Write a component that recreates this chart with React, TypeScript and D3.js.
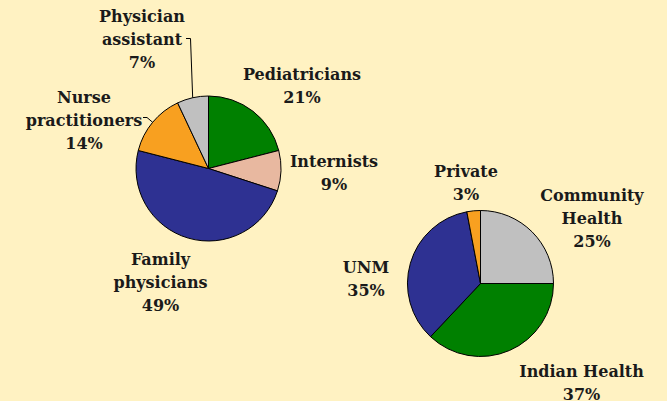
import React from "react";
import * as d3 from "d3";

// Pie 1: physician types
const providerCategories = ["Pediatricians", "Internists", "Family physicians", "Nurse practitioners", "Physician assistant"];
const providerValues = [21, 9, 49, 14, 7];
const providerLabelLines = [["Pediatricians"], ["Internists"], ["Family", "physicians"], ["Nurse", "practitioners"], ["Physician", "assistant"]];

// Pie 2: practice settings
const settingCategories = ["Community Health", "Indian Health", "UNM", "Private"];
const settingValues = [25, 37, 35, 3];
const settingLabelLines = [["Community", "Health"], ["Indian Health"], ["UNM"], ["Private"]];

const providerColors = ["#008000", "#E8B8A0", "#2E3192", "#F8A020", "#C0C0C0"];
const settingColors = ["#C0C0C0", "#008000", "#2E3192", "#F8A020"];

const W = 667;
const H = 401;
const BG = "#FFF2C2";
const FONT = "'DejaVu Serif', serif";
const LH = 23;

// layout: label anchor (center x, first baseline)
const providerLayout = [
  { x: 302, y: 80 },
  { x: 334, y: 166.5 },
  { x: 160.5, y: 264.5 },
  { x: 84, y: 102.5 },
  { x: 142, y: 21.5 },
];
const settingLayout = [
  { x: 592, y: 200.5 },
  { x: 581.5, y: 376.5 },
  { x: 366, y: 272.5 },
  { x: 466, y: 176.5 },
];

// leader lines: start points near label text (layout), end computed at pie edge
const providerLeaders: Record<number, [number, number][]> = {
  3: [[143, 117.5], [147, 117.5]],
  4: [[186, 38.5], [190.5, 38.5]],
};

type PieProps = {
  cx: number;
  cy: number;
  r: number;
  values: number[];
  colors: string[];
  lines: string[][];
  layout: { x: number; y: number }[];
  leaders?: Record<number, [number, number][]>;
};

function Pie({ cx, cy, r, values, colors, lines, layout, leaders = {} }: PieProps) {
  const pie = d3.pie<number>().sort(null).value((d) => d);
  const arcs = pie(values);
  const arc = d3.arc<d3.PieArcDatum<number>>().innerRadius(0).outerRadius(r);
  const edge = d3.arc<d3.PieArcDatum<number>>().innerRadius(r).outerRadius(r);
  const total = d3.sum(values);
  return (
    <g>
      <g transform={`translate(${cx},${cy})`}>
        {arcs.map((a, i) => (
          <path key={i} d={arc(a) || ""} fill={colors[i]} stroke="#000" strokeWidth={1} strokeLinejoin="round" />
        ))}
      </g>
      {arcs.map((a, i) => {
        const lead = leaders[i];
        if (!lead) return null;
        const [ex, ey] = edge.centroid(a);
        const pts = [...lead, [cx + ex, cy + ey]];
        return (
          <polyline key={"l" + i} points={pts.map((p) => p.join(",")).join(" ")} fill="none" stroke="#000" strokeWidth={1} />
        );
      })}
      {arcs.map((a, i) => {
        const pos = layout[i];
        const pct = Math.round((values[i] / total) * 100) + "%";
        const all = [...lines[i], pct];
        return (
          <text key={"t" + i} x={pos.x} y={pos.y} textAnchor="middle" fontFamily={FONT} fontWeight="bold" fontSize={16} fill="#1a1a1a">
            {all.map((t, j) => (
              <tspan key={j} x={pos.x} y={pos.y + j * LH}>
                {t}
              </tspan>
            ))}
          </text>
        );
      })}
    </g>
  );
}

export default function App() {
  return (
    <div style={{ position: "fixed", left: 0, top: 0, width: W, height: H }}>
      <svg width={W} height={H} viewBox={`0 0 ${W} ${H}`} style={{ display: "block" }}>
        <rect x={0} y={0} width={W} height={H} fill={BG} />
        <Pie cx={208.5} cy={168.5} r={72.5} values={providerValues} colors={providerColors} lines={providerLabelLines} layout={providerLayout} leaders={providerLeaders} />
        <Pie cx={480.5} cy={283.5} r={73} values={settingValues} colors={settingColors} lines={settingLabelLines} layout={settingLayout} />
      </svg>
    </div>
  );
}
